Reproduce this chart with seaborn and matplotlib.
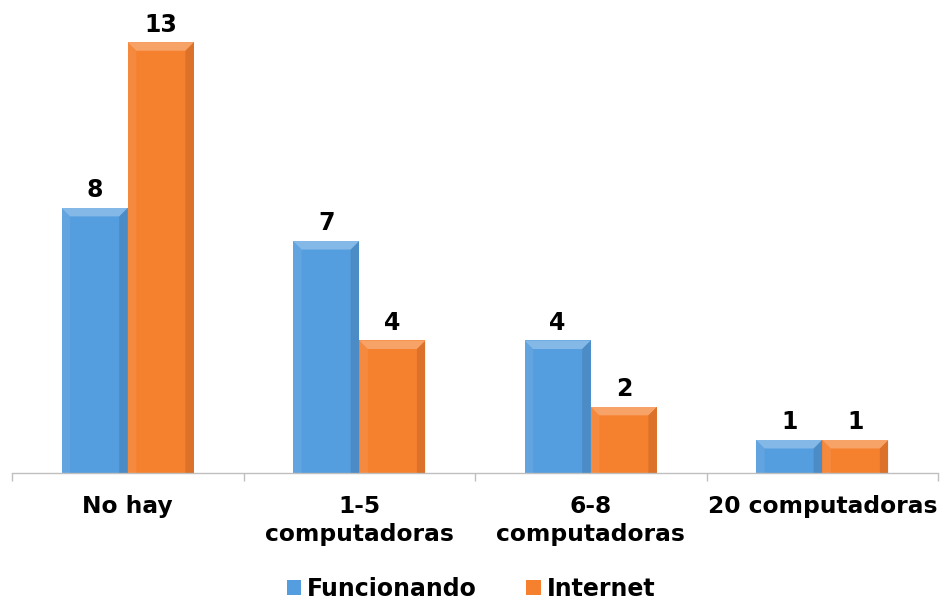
"""Bar chart: computadoras funcionando vs con internet."""

import numpy as np
import pandas as pd
import matplotlib
matplotlib.use("Agg")
import matplotlib.pyplot as plt
from matplotlib.patches import Polygon, Patch
import seaborn as sns

categories = ["No hay", "1-5\ncomputadoras", "6-8\ncomputadoras", "20 computadoras"]
series_names = ["Funcionando", "Internet"]
funcionando = [8, 7, 4, 1]
internet = [13, 4, 2, 1]

colors = {"Funcionando": "#549DDE", "Internet": "#F5802E"}

df = pd.DataFrame(
    {
        "categoria": categories * 2,
        "serie": [series_names[0]] * 4 + [series_names[1]] * 4,
        "valor": funcionando + internet,
    }
)

sns.set_style("white")
plt.rcParams["font.family"] = ["DejaVu Sans"]
plt.rcParams["text.color"] = "black"

fig = plt.figure(figsize=(9.41, 6.01), dpi=100)
ax = fig.add_axes([12 / 941, 1 - 473 / 601, 926 / 941, 473 / 601])

sns.barplot(
    data=df,
    x="categoria",
    y="valor",
    hue="serie",
    palette=colors,
    width=0.572,
    gap=0,
    saturation=1,
    linewidth=0,
    legend=False,
    ax=ax,
)

ax.set_xlim(-0.5, 3.5)
ax.set_ylim(0, 14.27)


def add_bevel(ax, patch, frac=0.13):
    """Draw light/dark bevel facets over a bar."""
    x, y = patch.get_x(), patch.get_y()
    w, h = patch.get_width(), patch.get_height()
    bx = w * frac
    # same bevel size in pixels for the vertical direction
    p0 = ax.transData.transform((0, 0))
    p1 = ax.transData.transform((bx, 0))
    px = p1[0] - p0[0]
    by = ax.transData.inverted().transform((p0[0], p0[1] + px))[1]
    by = min(by, h / 2)
    x0, x1, y0, y1 = x, x + w, y, y + h
    facets = [
        ([(x0, y1), (x1, y1), (x1 - bx, y1 - by), (x0 + bx, y1 - by)], "white", 0.28),
        ([(x0, y0), (x0, y1), (x0 + bx, y1 - by), (x0 + bx, y0)], "white", 0.08),
        ([(x1, y0), (x1, y1), (x1 - bx, y1 - by), (x1 - bx, y0)], "black", 0.10),
    ]
    for pts, c, a in facets:
        ax.add_patch(Polygon(pts, closed=True, facecolor=c, alpha=a, linewidth=0, zorder=3))


for patch in list(ax.patches):
    if patch.get_height() > 0:
        add_bevel(ax, patch)

for container in ax.containers:
    ax.bar_label(container, padding=4, fontsize=17, fontweight="bold", color="black")

sns.despine(ax=ax, left=True, top=True, right=True)
ax.spines["bottom"].set_color("#BFBFBF")
ax.spines["bottom"].set_linewidth(1)
ax.set_yticks([])
ax.set_xlabel("")
ax.set_ylabel("")
ax.tick_params(axis="x", which="major", length=0, pad=16, labelcolor="black")
ax.set_xticks(np.arange(-0.5, 4, 1), minor=True)
ax.tick_params(axis="x", which="minor", bottom=True, length=6, color="#BFBFBF",
               width=1, direction="out")
for lbl in ax.get_xticklabels():
    lbl.set_fontsize(16.8)
    lbl.set_fontweight("bold")
    lbl.set_linespacing(1.25)

handles = [Patch(facecolor=colors[s], edgecolor="none") for s in series_names]
fig.legend(
    handles,
    series_names,
    loc="center",
    bbox_to_anchor=(471 / 941, 1 - 589 / 601),
    ncol=2,
    frameon=False,
    prop={"size": 17, "weight": "bold"},
    handlelength=0.6,
    handleheight=0.6,
    handletextpad=0.25,
    columnspacing=2.1,
    borderpad=0.1,
)

fig.savefig("out.png", dpi=100)
